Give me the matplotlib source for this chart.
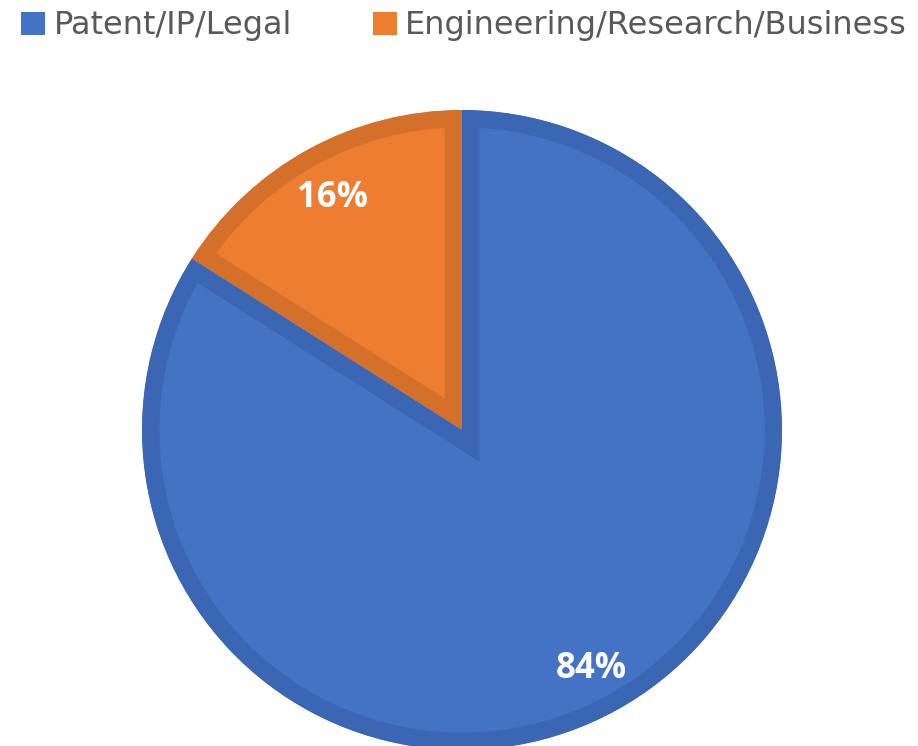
import matplotlib
matplotlib.use("Agg")
import matplotlib.pyplot as plt
from matplotlib.patches import Patch

# data
labels = ["Patent/IP/Legal", "Engineering/Research/Business"]
shares = [84, 16]
fill_colors = ["#4472C4", "#ED7D31"]
edge_colors = ["#3B66B3", "#D5702B"]

label_font = ["Open Sans", "DejaVu Sans"]

W, H = 918, 746
fig = plt.figure(figsize=(W / 100, H / 100), dpi=100)

# pie centre (462, 430) px from top-left, radius 320 px
cx, cy, r = 462, 430, 320
ax = fig.add_axes([(cx - r) / W, (H - cy - r) / H, 2 * r / W, 2 * r / H])

# draw so that the 16% slice starts at 12 o'clock going clockwise
wedges, texts, autotexts = ax.pie(
    shares[::-1], colors=fill_colors[::-1], startangle=90, counterclock=True,
    autopct="%d%%", pctdistance=0.84, radius=1.0,
    wedgeprops=dict(linewidth=25),
    textprops=dict(color="white", fontsize=25, fontweight="bold", family=label_font),
)
for w, ec in zip(wedges, edge_colors[::-1]):
    w.set_edgecolor(ec)
    w.set_clip_on(True)
    w.set_clip_path(w)          # keep the thick border inside each slice
for t in autotexts:
    x, y = t.get_position()
    t.set_position((x, y - 0.012))
ax.set_xlim(-1, 1)
ax.set_ylim(-1, 1)
ax.set_axis_off()

handles = [Patch(facecolor=c, edgecolor="none") for c in fill_colors]
fig.legend(handles, labels, loc="upper left", bbox_to_anchor=(-0.001, 1.016), ncol=2,
           frameon=False, handlelength=0.75, handleheight=0.75, handletextpad=0.25,
           columnspacing=2.55, borderpad=0.2,
           prop=dict(family="DejaVu Sans", size=23), labelcolor="#595959")

fig.savefig("out.png", dpi=100)
